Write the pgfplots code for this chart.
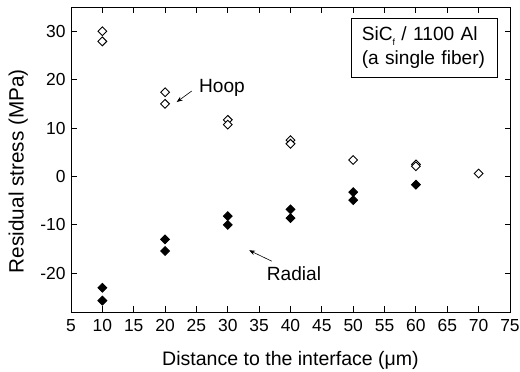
\documentclass[border=0pt]{standalone}
\usepackage{fontspec}
\setmainfont{Liberation Sans}
\usepackage{pgfplots}
\pgfplotsset{compat=1.18}
\usetikzlibrary{arrows.meta}
\begin{document}
\begin{tikzpicture}
\begin{axis}[
  at={(71bp,60bp)}, anchor=south west,
  scale only axis, width=439bp, height=305bp,
  xmin=5, xmax=75, ymin=-28, ymax=35,
  xtick={5,10,...,75}, ytick={-20,-10,...,30},
  tick align=inside, major tick length=5.5bp,
  axis line style={line width=1bp},
  tick style={line width=0.9bp, black},
  /pgf/number format/assume math mode=true,
  tick label style={font=\fontsize{17.5}{20}\selectfont},
  xticklabel style={yshift=-4bp},
  yticklabel style={xshift=-2bp},
  xlabel={Distance to the interface (μm)},
  ylabel={Residual stress (MPa)},
  xlabel style={font=\fontsize{19.6}{22}\selectfont, at={(axis description cs:0.5,-0.174)}, anchor=base},
  ylabel style={font=\fontsize{20.8}{22}\selectfont, at={(axis description cs:-0.12,0.462)}, anchor=center},
  clip=false,
]
\addplot[only marks, mark=square*, mark size=3.1bp,
  mark options={rotate=45, fill=white, draw=black, line width=0.9bp}]
  coordinates {
  (10,30.0) (10,27.9)
  (20,17.4) (20,15.0)
  (30,11.7) (30,10.7)
  (40,7.5) (40,6.75)
  (50,3.4)
  (60,2.5) (60,2.1)
  (70,0.6)
  };
\addplot[only marks, mark=square*, mark size=3.1bp,
  mark options={rotate=45, fill=black, draw=black, line width=0.9bp}]
  coordinates {
  (10,-23.0) (10,-25.65)
  (20,-13.0) (20,-15.4)
  (30,-8.2) (30,-10.0)
  (40,-6.8) (40,-8.6)
  (50,-3.25) (50,-4.9)
  (60,-1.7)
  };
\draw[-{Stealth[length=6bp,width=4.5bp]}, line width=0.6bp]
  (axis cs:24.25,17.65) -- (axis cs:21.85,15.37);
\node[anchor=base, font=\fontsize{19.2}{22}\selectfont, inner sep=0pt]
  at (axis cs:29.08,17.3) {Hoop};
\draw[-{Stealth[length=6bp,width=4.5bp]}, line width=0.6bp]
  (axis cs:37.0,-17.5) -- (axis cs:33.4,-15.25);
\node[anchor=base, font=\fontsize{19.2}{22}\selectfont, inner sep=0pt]
  at (axis cs:40.56,-21.5) {Radial};
\node[draw, line width=0.8bp, fill=white, anchor=north west,
  minimum width=145.7bp, minimum height=58.7bp,
  text width=130bp, inner xsep=7.85bp, inner ysep=0pt, align=left,
  font=\fontsize{19.2}{24}\selectfont]
  at (axis cs:49.65,32.7)
  {\hspace*{2.5bp}SiC\raisebox{-0.45ex}{\fontsize{9}{9}\selectfont f} / 1100 Al\\\hspace*{2.5bp}(a single fiber)};
\end{axis}
\pgfresetboundingbox
\path[use as bounding box] (0,0) rectangle (520bp,372bp);
\end{tikzpicture}
\end{document}
